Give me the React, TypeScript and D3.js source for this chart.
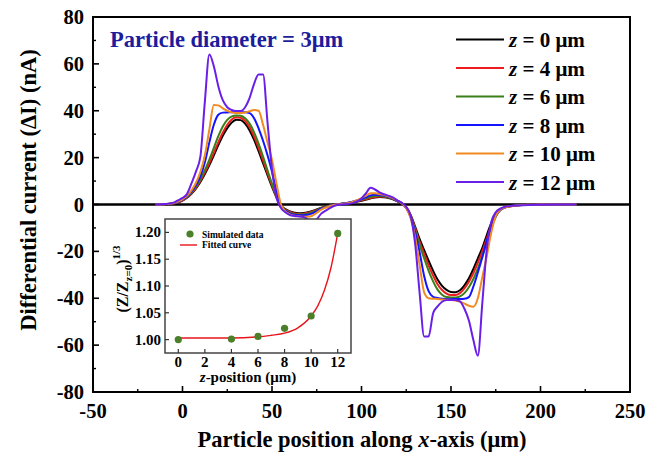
import React from 'react';
import * as d3 from 'd3';

// Particle positions along the x-axis (µm), shared by all traces
const positions = [
  -15, -10, -5, -2.5,
  0, 2.5, 5, 7.5, 10, 12.5, 15, 17.5, 20, 22.5, 25, 27.5, 30, 32.5, 35, 37.5,
  40, 42.5, 45, 47.5, 50, 52.5, 55, 57.5, 60, 62.5, 65, 67.5, 70, 72.5, 75, 77.5, 80,
  85, 90, 95,
  100, 102.5, 105, 107.5, 110, 112.5, 115, 117.5, 120, 122.5, 125, 127.5, 130, 132.5, 135, 137.5,
  140, 142.5, 145, 147.5, 150, 152.5, 155, 157.5, 160, 162.5, 165, 167.5, 170, 172.5, 175, 177.5, 180,
  185, 190, 195, 200, 210, 220,
];

// Differential current (nA) for each z-position
const currentZ0 = [
  0, 0.1, 0.4, 0.9,
  1.7, 2.9, 4.6, 6.8, 9.6, 13, 16.8, 21, 25.3, 29.3, 32.6, 35, 36.2, 36, 34.5, 31.6,
  27.6, 22.8, 17.6, 12.5, 7.5, 3, -0.5, -2, -3, -3.5, -3.7, -3.6, -3.3, -2.8, -2.1, -1.4, -0.8,
  0, 0.4, 0.9,
  1.6, 2.1, 2.6, 3, 3.2, 3.1, 2.8, 2.2, 1.3, 0.4, -1.2, -4.5, -9.5, -14.8, -19.5, -24,
  -28.3, -32, -34.7, -36.4, -37.3, -37.4, -36.6, -34.5, -31.5, -27.5, -23, -18.5, -13, -8, -4.5, -2.2, -1.2,
  -0.5, -0.2, -0.1, 0, 0, 0,
];
const currentZ4 = [
  0, 0.1, 0.45, 0.95,
  1.8, 3, 4.8, 7.1, 10.1, 13.7, 17.7, 22, 26.5, 30.6, 34, 36.3, 37.2, 37, 35.6, 33,
  29, 24.2, 18.8, 13.4, 8.1, 3.2, -0.6, -2.2, -3.2, -3.8, -4, -3.9, -3.6, -3, -2.3, -1.5, -0.9,
  0, 0.4, 1,
  1.8, 2.3, 2.8, 3.2, 3.4, 3.3, 3, 2.4, 1.5, 0.5, -1.3, -4.8, -10.2, -16, -21, -26,
  -30.3, -34, -36.5, -38, -38.6, -38.6, -37.8, -35.8, -33, -29.3, -24.8, -20, -14.5, -9, -4.8, -2.3, -1.2,
  -0.5, -0.2, -0.1, 0, 0, 0,
];
const currentZ6 = [
  0, 0.1, 0.5, 1,
  1.9, 3.2, 5.1, 7.6, 10.8, 14.7, 19.2, 24.2, 29.2, 33.3, 36.1, 37.6, 38, 37.9, 36.8, 34.5,
  30.8, 26, 20.5, 14.6, 8.8, 3.5, -0.7, -2.4, -3.5, -4.1, -4.3, -4.2, -3.9, -3.3, -2.5, -1.6, -1,
  0, 0.4, 1.1,
  2, 2.6, 3.2, 3.6, 3.7, 3.5, 3.1, 2.5, 1.5, 0.5, -1.4, -5.1, -11, -17.3, -23, -28.3,
  -32.8, -36.3, -38.5, -39.5, -39.7, -39.7, -39.2, -37.8, -35.3, -31.8, -27.3, -22, -16, -10, -5.2, -2.4, -1.3,
  -0.5, -0.2, -0.1, 0, 0, 0,
];
const currentZ8 = [
  0, 0.1, 0.5, 1.05,
  2, 3.4, 5.5, 8.3, 12, 18, 26.5, 34, 38.3, 39.2, 39.3, 39.4, 39.4, 39.4, 39.4, 39,
  36.8, 32.5, 27.2, 21, 14, 5.8, -0.8, -2.6, -3.8, -4.4, -4.6, -4.6, -4.4, -3.8, -2.8, -1.8, -1.1,
  0, 0.4, 1.2,
  2.3, 3.1, 3.9, 4.2, 4.1, 3.8, 3.3, 2.6, 1.6, 0.5, -1.5, -5.5, -12, -20.5, -30.5, -37,
  -39.4, -39.9, -40.2, -40.3, -40.3, -40.3, -40.3, -40.2, -39.5, -35, -29, -22.5, -15.5, -9.5, -5, -2.4, -1.3,
  -0.5, -0.2, -0.1, 0, 0, 0,
];
const currentZ10 = [
  0, 0.1, 0.6, 1.2,
  2.2, 3.7, 6, 9.3, 14, 21, 32, 42.5, 42.3, 41, 40, 39.3, 39, 39, 39.3, 39.8,
  40.3, 40, 34, 26.5, 19, 9, 0, -3, -4.2, -4.8, -5, -5.2, -5.2, -4.8, -3.5, -2.2, -1.3,
  -0.1, 0.3, 1.1,
  2.7, 3.8, 4.8, 4.8, 4.5, 4.1, 3.5, 2.7, 1.7, 0.5, -1.6, -6, -14, -26, -37.5, -40,
  -40.2, -40.3, -40.5, -40.6, -40.6, -41, -41.5, -42.3, -43.2, -43.6, -40, -31, -22, -12, -5, -2.2, -1.3,
  -0.6, -0.2, -0.1, 0, 0, 0,
];
const currentZ12 = [
  0, 0.2, 0.8, 1.8,
  2.8, 4.5, 9, 14, 20.5, 44, 64, 59, 50.5, 44.5, 41.5, 40.3, 39.9, 39.9, 41.5, 45.5,
  51.5, 55.5, 55.5, 35, 15, 3, -1.5, -3.3, -4.5, -4.9, -5.1, -5.3, -6.3, -7.8, -6.3, -3.9, -2.6,
  -0.5, 0.1, 0.6,
  2.6, 4.8, 7.2, 6.4, 5.2, 4.4, 3.8, 3, 1.8, 0.7, -1, -5, -17, -38, -56.3, -56.3,
  -46.4, -43.5, -41.5, -40.8, -40.7, -40.8, -41.3, -44.5, -49.5, -57.8, -64.5, -42, -19, -7.5, -3.3, -1.8, -1,
  -0.5, -0.3, -0.2, -0.1, 0, 0,
];

const zLabels = ['0', '4', '6', '8', '10', '12'];
const currents = [currentZ0, currentZ4, currentZ6, currentZ8, currentZ10, currentZ12];
const traceColors = ['#000000', '#ee1c1c', '#3a7f1c', '#1414ff', '#f28a22', '#6a1fe8'];

const xTicks = [-50, 0, 50, 100, 150, 200, 250];
const yTicks = [-80, -60, -40, -20, 0, 20, 40, 60, 80];

// Inset: normalised cube-root ratio versus z-position
const insetZ = [0, 4, 6, 8, 10, 12];
const insetRatio = [1.0, 1.001, 1.006, 1.021, 1.044, 1.198];
const fitZ = [0, 2, 4, 6, 7, 8, 9, 10, 10.5, 11, 11.5, 12];
const fitRatio = [1.003, 1.003, 1.003, 1.005, 1.008, 1.012, 1.022, 1.044, 1.063, 1.092, 1.135, 1.198];
const insetXTicks = [0, 2, 4, 6, 8, 10, 12];
const insetYTicks = [1.0, 1.05, 1.1, 1.15, 1.2];

// every text element carries its own font settings
const T = { fontFamily: 'Liberation Serif', fontWeight: 'bold' } as const;

export default function App() {
  const x = d3.scaleLinear().domain([-50, 250]).range([93, 630]);
  const y = d3.scaleLinear().domain([-80, 80]).range([392, 17]);

  const line = d3
    .line<number>()
    .x((_, i) => x(positions[i]))
    .y((d) => y(d))
    .curve(d3.curveMonotoneX);

  const ix = d3.scaleLinear().domain([-1, 13]).range([165, 351]);
  const iy = d3.scaleLinear().domain([0.975, 1.225]).range([353, 219]);
  const fitLine = d3
    .line<number>()
    .x((_, i) => ix(fitZ[i]))
    .y((d) => iy(d))
    .curve(d3.curveMonotoneX);

  const xMinor = d3.range(-50, 251, 25).filter((v) => v % 50 !== 0);
  const yMinor = d3.range(-80, 81, 10).filter((v) => v % 20 !== 0);

  const [x0, x1] = x.range();
  const [yb, yt] = y.range();

  return (
    <svg width={660} height={463} style={{ position: 'absolute', left: 0, top: 0, background: '#fff' }}>
      <rect width={660} height={463} fill="#fff" />

      {/* zero reference line */}
      <line x1={x0} x2={x1} y1={y(0)} y2={y(0)} stroke="#000" strokeWidth={2.6} />

      {/* traces */}
      {currents.map((vals, k) => (
        <path key={k} d={line(vals) ?? ''} fill="none" stroke={traceColors[k]} strokeWidth={2} strokeLinejoin="round" />
      ))}

      {/* frame */}
      <rect x={x0} y={yt} width={x1 - x0} height={yb - yt} fill="none" stroke="#000" strokeWidth={2} />

      {/* x ticks */}
      {xTicks.map((t) => (
        <g key={'xt' + t}>
          <line x1={x(t)} x2={x(t)} y1={yb} y2={yb - 6} stroke="#000" strokeWidth={1.6} />
          <text {...T} x={x(t)} y={418} fontSize={20.5} textAnchor="middle">
            {t}
          </text>
        </g>
      ))}
      {xMinor.map((t) => (
        <line key={'xm' + t} x1={x(t)} x2={x(t)} y1={yb} y2={yb - 3} stroke="#000" strokeWidth={1.4} />
      ))}

      {/* y ticks */}
      {yTicks.map((t) => (
        <g key={'yt' + t}>
          <line x1={x0} x2={x0 + 6} y1={y(t)} y2={y(t)} stroke="#000" strokeWidth={1.6} />
          <text {...T} x={84} y={y(t) + 7} fontSize={20.5} textAnchor="end">
            {t}
          </text>
        </g>
      ))}
      {yMinor.map((t) => (
        <line key={'ym' + t} x1={x0} x2={x0 + 3} y1={y(t)} y2={y(t)} stroke="#000" strokeWidth={1.4} />
      ))}

      {/* axis titles */}
      <text {...T} x={362} y={447} fontSize={22.5} textAnchor="middle">
        Particle position along <tspan fontStyle="italic">x</tspan>-axis (μm)
      </text>
      <text {...T} transform="translate(36,190) rotate(-90)" fontSize={22.5} textAnchor="middle">
        Differential current (ΔI) (nA)
      </text>

      {/* title */}
      <text {...T} x={110} y={47} fontSize={22.5} fill="#1c1c9c">
        Particle diameter = 3μm
      </text>

      {/* legend */}
      {zLabels.map((lab, k) => {
        const ly = 39.5 + k * 28.5;
        return (
          <g key={'lg' + k}>
            <line x1={456} x2={504} y1={ly} y2={ly} stroke={traceColors[k]} strokeWidth={2} />
            <text {...T} x={509} y={ly + 7.5} fontSize={21}>
              <tspan fontStyle="italic">z</tspan> = {lab} μm
            </text>
          </g>
        );
      })}

      {/* inset */}
      <g>
        <rect x={ix(-1)} y={iy(1.225)} width={ix(13) - ix(-1)} height={iy(0.975) - iy(1.225)} fill="#fff" stroke="#444" strokeWidth={1.5} />
        {insetXTicks.map((t) => (
          <g key={'ixt' + t}>
            <line x1={ix(t)} x2={ix(t)} y1={iy(0.975)} y2={iy(0.975) - 4} stroke="#333" strokeWidth={1.2} />
            <text {...T} x={ix(t)} y={367} fontSize={15} textAnchor="middle">
              {t}
            </text>
          </g>
        ))}
        {insetYTicks.map((t) => (
          <g key={'iyt' + t}>
            <line x1={ix(-1)} x2={ix(-1) + 4} y1={iy(t)} y2={iy(t)} stroke="#333" strokeWidth={1.2} />
            <text {...T} x={161} y={iy(t) + 5} fontSize={15} textAnchor="end">
              {t.toFixed(2)}
            </text>
          </g>
        ))}
        <path d={fitLine(fitRatio) ?? ''} fill="none" stroke="#e8141c" strokeWidth={1.4} />
        {insetZ.map((z, i) => (
          <circle key={'ip' + z} cx={ix(z)} cy={iy(insetRatio[i])} r={3.6} fill="#4b7f2a" />
        ))}
        <text {...T} x={248} y={382} fontSize={15} textAnchor="middle">
          <tspan fontStyle="italic">z</tspan>-position (μm)
        </text>
        <text {...T} transform="translate(128,279) rotate(-90)" fontSize={16} textAnchor="middle">
          (Z/Z<tspan fontSize={11} dy={4}>z=0</tspan>
          <tspan dy={-4}>)</tspan>
          <tspan fontSize={11} dy={-8}>1/3</tspan>
        </text>
        {/* inset legend */}
        <circle cx={190} cy={234} r={3.6} fill="#4b7f2a" />
        <text {...T} x={202} y={237.5} fontSize={9.5}>
          Simulated data
        </text>
        <line x1={180} x2={197} y1={245} y2={245} stroke="#e8141c" strokeWidth={1.4} />
        <text {...T} x={202} y={248} fontSize={9.5}>
          Fitted curve
        </text>
      </g>
    </svg>
  );
}
